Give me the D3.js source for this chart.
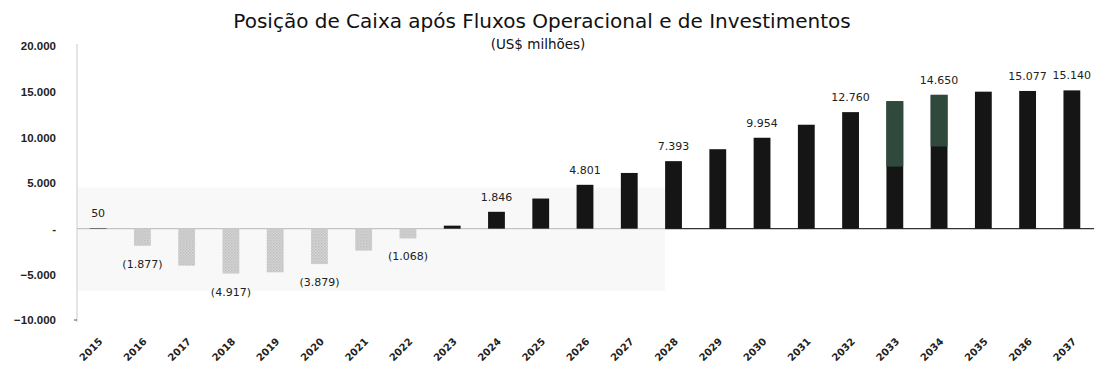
<!DOCTYPE html>
<html>
<head>
<meta charset="utf-8">
<script src="https://cdn.jsdelivr.net/npm/d3@7"></script>
<style>
  html, body { margin: 0; padding: 0; background: #fff; }
  svg { display: block; font-family: "DejaVu Sans", Verdana, sans-serif; }
</style>
</head>
<body>
<svg id="chart" width="1094" height="367"></svg>
<script>
// Cash position after operating and investing flows (US$ million)
const years = [2015, 2016, 2017, 2018, 2019, 2020, 2021, 2022, 2023, 2024, 2025, 2026,
               2027, 2028, 2029, 2030, 2031, 2032, 2033, 2034, 2035, 2036, 2037];
const cashPosition = [50, -1877, -4050, -4917, -4780, -3879, -2400, -1068, 330, 1846, 3300, 4801,
                      6100, 7393, 8700, 9954, 11380, 12760, 13950, 14650, 15000, 15077, 15140];
const labeledYears = [2015, 2016, 2018, 2020, 2022, 2024, 2026, 2028, 2030, 2032, 2034, 2036, 2037];
// upper part of these bars is shaded green from the given level up
const accentYears = [2033, 2034];
const accentFrom = [6800, 9000];
const yTicks = [-10000, -5000, 0, 5000, 10000, 15000, 20000];

const title = "Posição de Caixa após Fluxos Operacional e de Investimentos";
const subtitle = "(US$ milhões)";

const svg = d3.select("#chart");

const x = d3.scaleBand().domain(years).range([76, 1094]).padding(0);
const barW = x.bandwidth() * 0.38;
const barX = yr => x(yr) + (x.bandwidth() - barW) / 2;
const y = d3.scaleLinear().domain([-10000, 20000]).range([320, 46]);

const fmt = v => {
  const s = d3.format(",")(Math.abs(v)).replace(/,/g, ".");
  return v < 0 ? "(" + s + ")" : s;
};
const tickFmt = v => v === 0 ? "-" : d3.format(",")(v).replace(/,/g, ".");

// dotted fill for the negative bars
const defs = svg.append("defs");
const pat = defs.append("pattern").attr("id", "dots")
  .attr("width", 3).attr("height", 3).attr("patternUnits", "userSpaceOnUse");
pat.append("rect").attr("width", 3).attr("height", 3).attr("fill", "#d4d4d4");
pat.append("rect").attr("width", 1.5).attr("height", 1.5).attr("fill", "#bfbfbf");
pat.append("rect").attr("x", 1.5).attr("y", 1.5).attr("width", 1.5).attr("height", 1.5).attr("fill", "#c6c6c6");

// faint backing panel behind the early years
const panelEnd = barX(2028);
svg.append("rect")
  .attr("x", 77).attr("y", y(4500))
  .attr("width", panelEnd - 77).attr("height", y(-6800) - y(4500))
  .attr("fill", "#f8f8f8");

// titles
svg.append("text").attr("x", 542).attr("y", 28).attr("text-anchor", "middle")
  .attr("font-size", 20).attr("fill", "#111").text(title);
svg.append("text").attr("x", 538).attr("y", 49).attr("text-anchor", "middle")
  .attr("font-size", 13.5).attr("fill", "#111").text(subtitle);

// y axis
const yAxis = d3.axisLeft(y).tickValues(yTicks).tickFormat(tickFmt).tickSize(0).tickPadding(0);
const gy = svg.append("g").attr("transform", "translate(56,0)").call(yAxis);
gy.select(".domain").remove();
gy.selectAll("text").attr("font-size", 11.5).attr("font-weight", "bold").attr("fill", "#222");

svg.append("line").attr("x1", 77).attr("x2", 77).attr("y1", y(20000) - 2).attr("y2", y(-10000) + 2)
  .attr("stroke", "#dcdcdc").attr("stroke-width", 1.5);
svg.append("line").attr("x1", 74).attr("x2", 77).attr("y1", y(-10000)).attr("y2", y(-10000))
  .attr("stroke", "#555");

// zero line: light under the negative years, dark under the rest
svg.append("line").attr("x1", 77).attr("x2", panelEnd).attr("y1", y(0)).attr("y2", y(0))
  .attr("stroke", "#c4c4c4").attr("stroke-width", 1.2);
svg.append("line").attr("x1", panelEnd).attr("x2", 1094).attr("y1", y(0)).attr("y2", y(0))
  .attr("stroke", "#333").attr("stroke-width", 1.2);

const data = years.map((yr, i) => ({ yr, v: cashPosition[i] }));

// bars
svg.append("g").selectAll("rect").data(data).join("rect")
  .attr("x", d => barX(d.yr))
  .attr("width", barW)
  .attr("y", d => y(Math.max(0, d.v)))
  .attr("height", d => Math.abs(y(d.v) - y(0)))
  .attr("fill", d => d.v < 0 ? "url(#dots)" : "#151515");

// green upper segments
svg.append("g").selectAll("rect").data(accentYears.map((yr, i) => ({
    yr, from: accentFrom[i], v: cashPosition[years.indexOf(yr)] })))
  .join("rect")
  .attr("x", d => barX(d.yr))
  .attr("width", barW)
  .attr("y", d => y(d.v))
  .attr("height", d => y(d.from) - y(d.v))
  .attr("fill", "#2f4a3d");

// value labels
svg.append("g").selectAll("text").data(data.filter(d => labeledYears.includes(d.yr))).join("text")
  .attr("x", d => x(d.yr) + x.bandwidth() / 2)
  .attr("y", d => d.v < 0 ? y(d.v) + 22 : y(d.v) - 11)
  .attr("text-anchor", "middle")
  .attr("font-size", 11).attr("fill", "#222")
  .text(d => fmt(d.v));

// x axis labels
svg.append("g").selectAll("text").data(years).join("text")
  .attr("transform", d => `translate(${x(d) + x.bandwidth() / 2 + 3},${340}) rotate(-45)`)
  .attr("text-anchor", "end")
  .attr("dominant-baseline", "middle")
  .attr("font-size", 10).attr("font-weight", "bold").attr("fill", "#222")
  .text(d => d);
</script>
</body>
</html>
